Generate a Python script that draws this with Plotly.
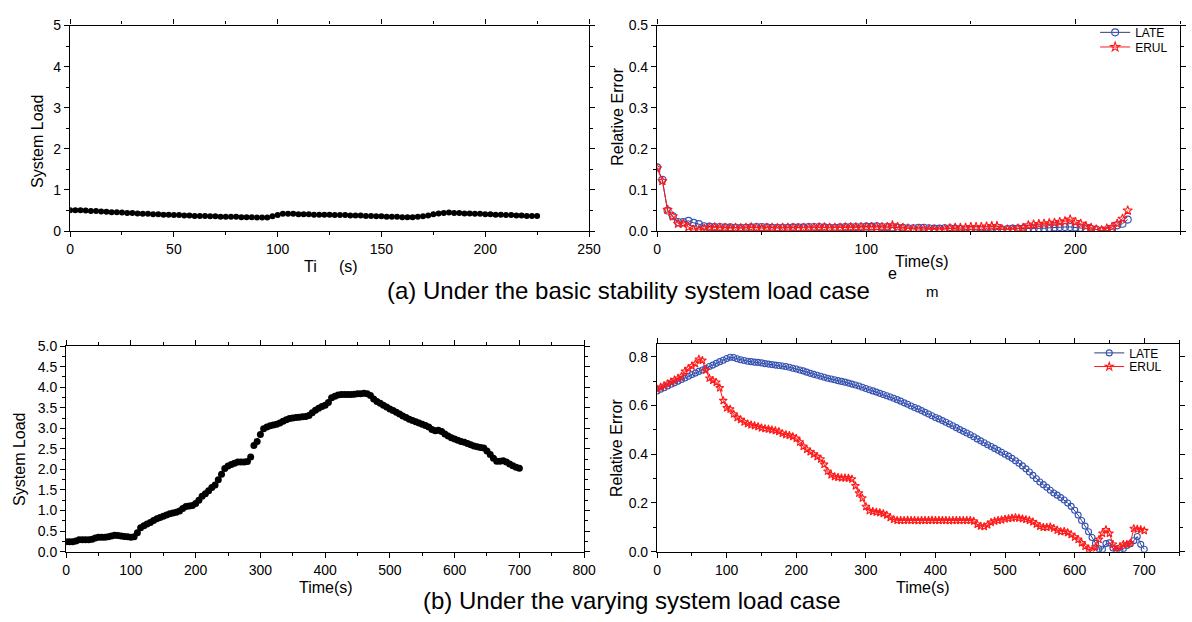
import plotly.graph_objects as go

W, H = 1192, 622

# ---------------- (a) basic stability case: sampled every 2.5 s ----------------
a_step = 2.5
a_load = [0.51, 0.51, 0.51, 0.50, 0.49, 0.49, 0.48, 0.47, 0.46, 0.46,
          0.45, 0.44, 0.44, 0.43, 0.42, 0.42, 0.41, 0.41, 0.40, 0.40,
          0.39, 0.39, 0.38, 0.38, 0.37, 0.37, 0.37, 0.36, 0.36, 0.35,
          0.35, 0.35, 0.35, 0.34, 0.34, 0.34, 0.33, 0.33, 0.33, 0.36,
          0.39, 0.42, 0.42, 0.42, 0.41, 0.41, 0.41, 0.40, 0.40, 0.40,
          0.40, 0.39, 0.39, 0.39, 0.38, 0.38, 0.38, 0.37, 0.37, 0.36,
          0.36, 0.35, 0.35, 0.35, 0.34, 0.34, 0.34, 0.35, 0.36, 0.38,
          0.41, 0.43, 0.44, 0.45, 0.44, 0.44, 0.43, 0.43, 0.42, 0.42,
          0.41, 0.41, 0.40, 0.40, 0.39, 0.39, 0.38, 0.38, 0.37, 0.37,
          0.37]
a_late = [0.155, 0.125, 0.050, 0.036, 0.022, 0.022, 0.025, 0.020, 0.017, 0.012,
          0.011, 0.010, 0.010, 0.009, 0.009, 0.008, 0.008, 0.008, 0.009, 0.010,
          0.010, 0.009, 0.008, 0.008, 0.008, 0.008, 0.009, 0.009, 0.009, 0.010,
          0.010, 0.010, 0.009, 0.008, 0.008, 0.009, 0.010, 0.010, 0.010, 0.010,
          0.011, 0.011, 0.012, 0.010, 0.010, 0.009, 0.008, 0.008, 0.007, 0.007,
          0.008, 0.008, 0.007, 0.006, 0.006, 0.007, 0.007, 0.006, 0.005, 0.004,
          0.003, 0.003, 0.002, 0.002, 0.003, 0.004, 0.004, 0.005, 0.006, 0.006,
          0.006, 0.006, 0.006, 0.007, 0.007, 0.008, 0.009, 0.010, 0.010, 0.010,
          0.009, 0.008, 0.006, 0.005, 0.004, 0.001, 0.000, 0.005, 0.014, 0.018,
          0.028]
a_erul = [0.153, 0.122, 0.052, 0.036, 0.018, 0.018, 0.010, 0.003, 0.003, 0.006,
          0.008, 0.009, 0.008, 0.008, 0.007, 0.008, 0.007, 0.008, 0.009, 0.008,
          0.007, 0.008, 0.008, 0.007, 0.008, 0.008, 0.008, 0.007, 0.008, 0.008,
          0.008, 0.009, 0.009, 0.008, 0.008, 0.008, 0.009, 0.009, 0.009, 0.010,
          0.010, 0.010, 0.010, 0.010, 0.010, 0.014, 0.010, 0.008, 0.006, 0.005,
          0.005, 0.005, 0.004, 0.004, 0.003, 0.005, 0.007, 0.008, 0.008, 0.008,
          0.010, 0.010, 0.010, 0.011, 0.012, 0.012, 0.004, 0.004, 0.004, 0.006,
          0.008, 0.014, 0.016, 0.017, 0.018, 0.019, 0.020, 0.022, 0.024, 0.028,
          0.022, 0.018, 0.012, 0.008, 0.004, 0.002, 0.006, 0.010, 0.018, 0.030,
          0.050]
a_time = [i * a_step for i in range(len(a_load))]

# ---------------- (b) varying case: sampled every 5 s ----------------
b_step = 5
b_load = [0.24, 0.24, 0.24, 0.26, 0.29, 0.29, 0.29, 0.29, 0.30, 0.33,
          0.35, 0.35, 0.35, 0.36, 0.38, 0.40, 0.39, 0.38, 0.37, 0.36,
          0.35, 0.36, 0.46, 0.58, 0.63, 0.67, 0.71, 0.76, 0.80, 0.83,
          0.86, 0.89, 0.92, 0.94, 0.96, 0.99, 1.05, 1.10, 1.11, 1.12,
          1.17, 1.25, 1.35, 1.41, 1.48, 1.56, 1.62, 1.75, 1.88, 2.02,
          2.08, 2.12, 2.15, 2.18, 2.18, 2.18, 2.19, 2.30, 2.58, 2.68,
          2.85, 2.99, 3.03, 3.06, 3.08, 3.10, 3.13, 3.17, 3.21, 3.24,
          3.25, 3.26, 3.27, 3.28, 3.29, 3.31, 3.38, 3.44, 3.49, 3.53,
          3.56, 3.63, 3.74, 3.78, 3.81, 3.82, 3.82, 3.82, 3.82, 3.83,
          3.84, 3.84, 3.85, 3.84, 3.80, 3.71, 3.65, 3.61, 3.56, 3.52,
          3.47, 3.43, 3.39, 3.35, 3.30, 3.26, 3.22, 3.19, 3.16, 3.13,
          3.10, 3.07, 3.03, 2.97, 2.94, 2.95, 2.92, 2.86, 2.81, 2.77,
          2.74, 2.71, 2.68, 2.66, 2.63, 2.60, 2.57, 2.55, 2.53, 2.52,
          2.45, 2.36, 2.27, 2.20, 2.20, 2.21, 2.18, 2.13, 2.09, 2.05,
          2.03]
b_late = [0.660, 0.667, 0.673, 0.680, 0.687, 0.693, 0.700, 0.707, 0.713, 0.720,
          0.727, 0.733, 0.740, 0.746, 0.753, 0.760, 0.766, 0.773, 0.780, 0.786,
          0.793, 0.798, 0.797, 0.792, 0.788, 0.785, 0.782, 0.780, 0.778, 0.777,
          0.775, 0.772, 0.770, 0.768, 0.766, 0.764, 0.762, 0.760, 0.757, 0.753,
          0.750, 0.746, 0.742, 0.737, 0.732, 0.728, 0.724, 0.720, 0.716, 0.712,
          0.709, 0.706, 0.702, 0.699, 0.696, 0.692, 0.688, 0.684, 0.680, 0.675,
          0.670, 0.665, 0.660, 0.655, 0.650, 0.645, 0.640, 0.635, 0.630, 0.624,
          0.618, 0.611, 0.605, 0.598, 0.592, 0.586, 0.579, 0.572, 0.565, 0.558,
          0.551, 0.545, 0.538, 0.531, 0.524, 0.517, 0.509, 0.501, 0.494, 0.487,
          0.480, 0.472, 0.463, 0.455, 0.447, 0.439, 0.432, 0.424, 0.416, 0.408,
          0.400, 0.392, 0.383, 0.373, 0.363, 0.352, 0.340, 0.327, 0.313, 0.299,
          0.286, 0.275, 0.264, 0.252, 0.241, 0.232, 0.222, 0.212, 0.200, 0.186,
          0.170, 0.150, 0.128, 0.105, 0.082, 0.058, 0.034, 0.012, 0.010, 0.033,
          0.036, 0.015, 0.002, 0.008, 0.012, 0.025, 0.032, 0.045, 0.062, 0.030,
          0.010]
b_erul = [0.667, 0.675, 0.682, 0.690, 0.697, 0.705, 0.712, 0.720, 0.740, 0.752,
          0.762, 0.772, 0.790, 0.785, 0.745, 0.712, 0.703, 0.695, 0.672, 0.620,
          0.590, 0.585, 0.565, 0.550, 0.542, 0.532, 0.525, 0.520, 0.517, 0.513,
          0.508, 0.505, 0.503, 0.500, 0.497, 0.493, 0.485, 0.480, 0.477, 0.472,
          0.465, 0.450, 0.432, 0.420, 0.410, 0.400, 0.390, 0.380, 0.358, 0.330,
          0.315, 0.308, 0.305, 0.303, 0.303, 0.302, 0.298, 0.270, 0.240, 0.220,
          0.185, 0.168, 0.165, 0.162, 0.160, 0.156, 0.150, 0.140, 0.132, 0.128,
          0.128, 0.128, 0.129, 0.128, 0.128, 0.127, 0.128, 0.128, 0.128, 0.129,
          0.128, 0.128, 0.128, 0.128, 0.127, 0.128, 0.128, 0.128, 0.128, 0.128,
          0.128, 0.125, 0.112, 0.105, 0.103, 0.110, 0.120, 0.125, 0.128, 0.130,
          0.134, 0.136, 0.138, 0.140, 0.138, 0.135, 0.132, 0.128, 0.122, 0.113,
          0.104, 0.100, 0.100, 0.102, 0.096, 0.088, 0.082, 0.083, 0.078, 0.070,
          0.060, 0.050, 0.036, 0.022, 0.010, 0.004, 0.020, 0.050, 0.075, 0.090,
          0.075, 0.030, 0.006, 0.020, 0.030, 0.030, 0.035, 0.095, 0.092, 0.090,
          0.086]
b_time = [i * b_step for i in range(len(b_load))]

FONT = "Arial, Liberation Sans, sans-serif"
BLUE = "#3553B5"
BLUE_LINE = "#303E78"
RED = "#FF1A1A"


def px_x(px):
    return px / W


def px_y(py):
    return 1 - py / H


fig = go.Figure()

# (a) system load
fig.add_trace(go.Scatter(x=a_time, y=a_load, mode="markers", showlegend=False,
                         marker=dict(color="black", size=6),
                         xaxis="x", yaxis="y"))
# (a) relative errors
fig.add_trace(go.Scatter(x=a_time, y=a_late, mode="lines+markers", name="LATE",
                         line=dict(color=BLUE_LINE, width=1),
                         marker=dict(symbol="circle-open", color=BLUE, size=7, line=dict(width=1.1)),
                         xaxis="x2", yaxis="y2", legend="legend"))
fig.add_trace(go.Scatter(x=a_time, y=a_erul, mode="lines+markers", name="ERUL",
                         line=dict(color=RED, width=1),
                         marker=dict(symbol="star-open", color=RED, size=7, line=dict(width=1.1)),
                         xaxis="x2", yaxis="y2", legend="legend2"))
# (b) system load
fig.add_trace(go.Scatter(x=b_time, y=b_load, mode="markers", showlegend=False,
                         marker=dict(color="black", size=7),
                         xaxis="x3", yaxis="y3"))
# (b) relative errors
fig.add_trace(go.Scatter(x=b_time, y=b_late, mode="lines+markers", name="LATE",
                         line=dict(color=BLUE_LINE, width=1),
                         marker=dict(symbol="circle-open", color=BLUE, size=6, line=dict(width=1.1)),
                         xaxis="x4", yaxis="y4", legend="legend3"))
fig.add_trace(go.Scatter(x=b_time, y=b_erul, mode="lines+markers", name="ERUL",
                         line=dict(color=RED, width=1),
                         marker=dict(symbol="star-open", color=RED, size=6, line=dict(width=1.1)),
                         xaxis="x4", yaxis="y4", legend="legend4"))


def axis(domain, rng, dtick, minor, fmt=None, tickvals=None, anchor=None):
    d = dict(domain=domain, range=rng, dtick=dtick, showgrid=False, zeroline=False,
             showline=True, linecolor="black", linewidth=1.3, mirror="ticks",
             ticks="outside", ticklen=5, tickwidth=1.2, tickcolor="black",
             minor=dict(dtick=minor, ticks="outside", ticklen=3, tickwidth=1, tickcolor="black"),
             tickfont=dict(family=FONT, size=14, color="black"), anchor=anchor)
    if fmt:
        d["tickformat"] = fmt
    if tickvals is not None:
        d["tickmode"] = "array"
        d["tickvals"] = tickvals
        d.pop("dtick")
    return d


top_y = [px_y(229), px_y(18)]
bot_y = [px_y(558), px_y(345)]

layout_axes = dict(
    xaxis=axis([px_x(67), px_x(593)], [0, 250], 50, 25, anchor="y"),
    yaxis=axis(top_y, [0, 5], 1, 0.5, anchor="x"),
    xaxis2=axis([px_x(662), 1.0], [0, 250], None, 50, tickvals=[0, 100, 200], anchor="y2"),
    yaxis2=axis(top_y, [0, 0.5], 0.1, 0.05, fmt=".1f", anchor="x2"),
    xaxis3=axis([px_x(63), px_x(588)], [0, 800], 100, 50, anchor="y3"),
    yaxis3=axis([px_y(558), px_y(347)], [0, 5], 0.5, 0.25, fmt=".1f", anchor="x3"),
    xaxis4=axis([px_x(662), px_x(1191)], [0, 750], None, 50,
                tickvals=[0, 100, 200, 300, 400, 500, 600, 700], anchor="y4"),
    yaxis4=axis(bot_y, [0, 0.852], 0.2, 0.1, fmt=".1f", anchor="x4"),
)


def legend_at(px, py):
    return dict(x=px_x(px), y=px_y(py), xanchor="left", yanchor="middle",
                bgcolor="rgba(0,0,0,0)", borderwidth=0,
                font=dict(family=FONT, size=12, color="black"),
                itemwidth=30, tracegroupgap=0)


def text(s, px, py, size=16, angle=0):
    return dict(text=s, x=px_x(px), y=px_y(py), xref="paper", yref="paper",
                showarrow=False, xanchor="center", yanchor="middle", textangle=angle,
                font=dict(family=FONT, size=size, color="black"))


annotations = [
    text("System Load", 34, 137, angle=-90),
    text("Ti", 311, 265),
    text("(s)", 349, 265),
    text("Relative Error", 621, 112, angle=-90),
    text("Time(s)", 930, 260),
    text("e", 901, 273),
    text("m", 941, 291, size=15),
    text("(a) Under the basic stability system load case", 633, 290, size=24),
    text("System Load", 15, 463, angle=-90),
    text("Time(s)", 326, 595),
    text("Relative Error", 621, 452, angle=-90),
    text("Time(s)", 932, 595),
    text("(b) Under the varying system load case", 637, 608, size=24),
]

fig.update_layout(
    width=W, height=H,
    margin=dict(l=0, r=0, t=0, b=0),
    paper_bgcolor="white", plot_bgcolor="white",
    font=dict(family=FONT, color="black"),
    annotations=annotations,
    legend=legend_at(1106, 25),
    legend2=legend_at(1106, 40),
    legend3=legend_at(1100, 354),
    legend4=legend_at(1100, 368),
    **layout_axes,
)

fig.write_html("out.html")
